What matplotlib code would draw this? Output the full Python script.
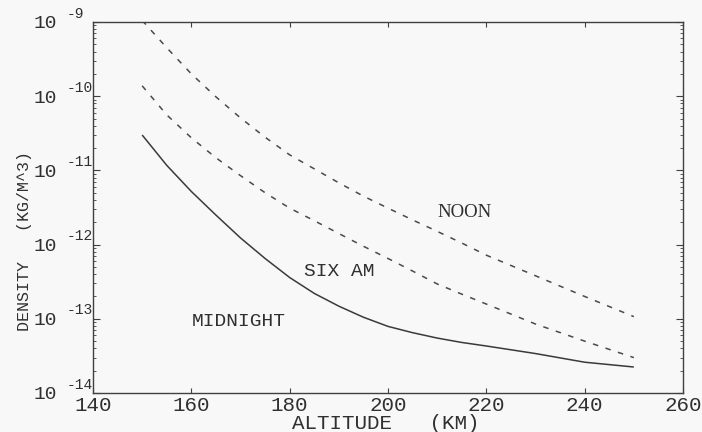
import numpy as np
import matplotlib
matplotlib.use('Agg')
import matplotlib.pyplot as plt
from matplotlib.ticker import LogLocator, NullFormatter, FixedLocator
from matplotlib import transforms

# ---- data ----
altitude = [150, 155, 160, 165, 170, 175, 180, 185, 190, 195, 200, 205, 210, 215, 220, 230, 240, 250]
density_midnight = [3.0e-11, 1.17e-11, 5.2e-12, 2.5e-12, 1.23e-12, 6.5e-13, 3.6e-13, 2.2e-13,
                    1.48e-13, 1.05e-13, 7.9e-14, 6.5e-14, 5.5e-14, 4.8e-14, 4.3e-14, 3.4e-14,
                    2.6e-14, 2.24e-14]
density_sixam = [1.38e-10, 5.6e-11, 2.75e-11, 1.48e-11, 8.5e-12, 5.0e-12, 3.1e-12, 2.1e-12,
                 1.41e-12, 9.5e-13, 6.5e-13, 4.4e-13, 2.95e-13, 2.15e-13, 1.58e-13, 8.5e-14,
                 5.0e-14, 3.0e-14]
density_noon = [1.05e-9, 4.5e-10, 2.0e-10, 9.8e-11, 5.1e-11, 2.8e-11, 1.62e-11, 1.05e-11,
                6.8e-12, 4.5e-12, 3.1e-12, 2.15e-12, 1.51e-12, 1.05e-12, 7.2e-13, 3.8e-13,
                2.0e-13, 1.07e-13]

x_ticks = [140, 160, 180, 200, 220, 240, 260]
y_exponents = [-9, -10, -11, -12, -13, -14]

labels = {"NOON": (210, 2.7e-12), "SIX AM": (183, 4.3e-13), "MIDNIGHT": (160, 9.1e-14)}

# ---- figure ----
bg = '#f8f8f8'
ink = '#303030'
mono = 'Liberation Mono'

fig = plt.figure(figsize=(7.02, 4.32), dpi=100, facecolor=bg)
ax = fig.add_axes([93/702, 1 - 393/432, (683 - 93)/702, (393 - 22)/432])
ax.set_facecolor(bg)

ax.plot(altitude, density_midnight, color='#3a3a3a', lw=1.1, solid_capstyle='butt',
        solid_joinstyle='round')
ax.plot(altitude, density_sixam, color='#4a4a4a', lw=1.1, dashes=(3.6, 5.0))
ax.plot(altitude, density_noon, color='#4a4a4a', lw=1.1, dashes=(3.6, 5.0))

ax.set_yscale('log')
ax.set_xlim(140, 260)
ax.set_ylim(1e-14, 1e-9)

for s in ax.spines.values():
    s.set_color('#404040')
    s.set_linewidth(1.0)

ax.xaxis.set_major_locator(FixedLocator(x_ticks))
ax.set_xticklabels([str(v) for v in x_ticks], fontfamily=mono, fontsize=15, color=ink)
ax.tick_params(axis='x', which='major', direction='in', length=3.5, width=0.8,
               top=True, bottom=True, pad=2, colors='#404040', labelcolor=ink)

yt = [10.0**e for e in y_exponents]
ax.yaxis.set_major_locator(FixedLocator(yt))
ax.set_yticklabels(['10'] * len(yt), fontfamily=mono, fontsize=14, color=ink)
ax.yaxis.set_minor_locator(LogLocator(base=10, subs=np.arange(2, 10), numticks=20))
ax.yaxis.set_minor_formatter(NullFormatter())
ax.tick_params(axis='y', which='major', direction='in', length=5, width=0.8,
               left=True, right=True, pad=26, colors='#404040', labelcolor=ink)
ax.tick_params(axis='y', which='minor', direction='in', length=2.5, width=0.6,
               left=True, right=True, colors='#404040')

# exponent superscripts
blend = transforms.blended_transform_factory(ax.transAxes, ax.transData)
sup_tr = transforms.offset_copy(blend, fig=fig, x=0, y=6, units='points')
for e in y_exponents:
    ax.text(-26/590, 10.0**e, str(e), transform=sup_tr, fontfamily=mono, fontsize=10.5,
            color=ink, ha='left', va='center', clip_on=False)

# curve labels
ax.text(*labels["NOON"], "NOON", fontfamily='Liberation Serif', fontsize=13.5, color=ink,
        ha='left', va='center')
ax.text(*labels["SIX AM"], "SIX AM", fontfamily=mono, fontsize=14, color=ink,
        ha='left', va='center')
ax.text(*labels["MIDNIGHT"], "MIDNIGHT", fontfamily=mono, fontsize=14, color=ink,
        ha='left', va='center')

# axis titles
fig.text(386/702, 1 - 429/432, "ALTITUDE   (KM)", fontfamily=mono, fontsize=15,
         color=ink, ha='center', va='baseline')
fig.text(25/702, 1 - 241/432, "DENSITY   (KG/M^3)", fontfamily=mono, fontsize=12,
         color=ink, ha='center', va='center', rotation=90)

fig.savefig('out.png', dpi=100, facecolor=bg)
